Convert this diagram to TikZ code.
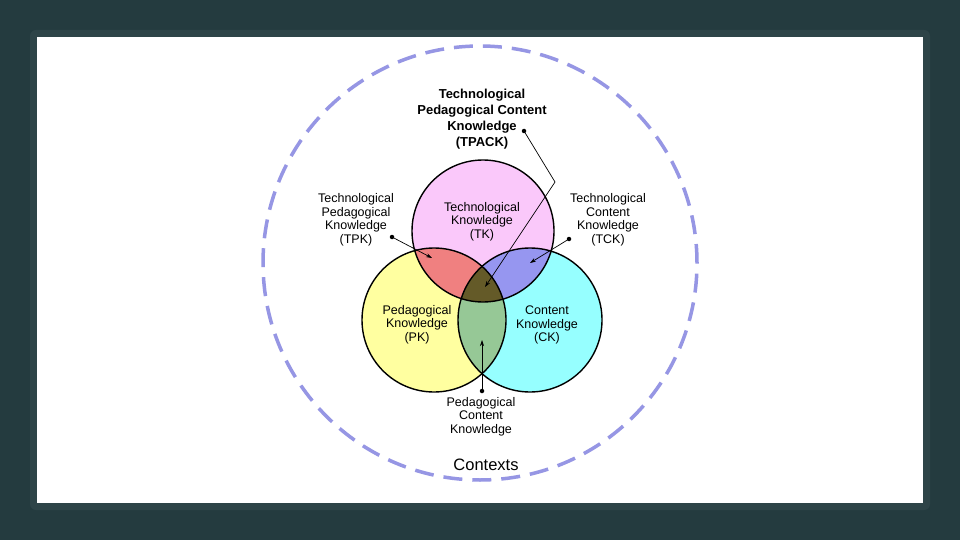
\documentclass[tikz,border=0pt]{standalone}
\usepackage{fontspec}
\setmainfont{Liberation Sans}
\usetikzlibrary{arrows.meta}
\definecolor{bgdark}{RGB}{36,59,63}
\definecolor{band}{RGB}{46,68,72}
\definecolor{ctx}{RGB}{150,150,228}
\definecolor{tkcol}{RGB}{250,200,250}
\definecolor{pkcol}{RGB}{255,255,160}
\definecolor{ckcol}{RGB}{150,255,255}
\definecolor{tpkcol}{RGB}{240,128,128}
\definecolor{tckcol}{RGB}{150,150,240}
\definecolor{pckcol}{RGB}{150,200,150}
\definecolor{tpackcol}{RGB}{100,90,40}
\begin{document}
\begin{tikzpicture}[x=1pt,y=-1pt,
  lbl/.style={align=center,inner sep=0pt,font=\fontsize{12.5}{13.5}\selectfont},
  ring/.style={circle,draw=black,line width=1.4pt,inner sep=0pt},
  dotnode/.style={circle,fill=black,inner sep=0pt,minimum size=4.5pt},
  arr/.style={draw=black,line width=0.7pt,-{Stealth[length=6pt,width=4pt]}}]
\useasboundingbox (0,0) rectangle (960,540);
\fill[bgdark] (0,0) rectangle (960,540);
\fill[band,rounded corners=6pt] (30,30) rectangle (930,510);
\fill[white] (37,37) rectangle (923,503);
% contexts
\node[circle,draw=ctx,line width=3.5pt,dash pattern=on 19pt off 10pt,minimum size=434pt,inner sep=0pt] (context) at (480,263) {};
% centres
\coordinate (tkc) at (483,231);
\coordinate (pkc) at (434,320);
\coordinate (ckc) at (530,320);
% fills
\fill[tkcol] (tkc) circle[radius=71pt];
\fill[pkcol] (pkc) circle[radius=72pt];
\fill[ckcol] (ckc) circle[radius=72pt];
\begin{scope}
  \clip (pkc) circle[radius=72pt];
  \fill[pckcol] (ckc) circle[radius=72pt];
\end{scope}
\begin{scope}
  \clip (tkc) circle[radius=71pt];
  \fill[tpkcol] (pkc) circle[radius=72pt];
  \fill[tckcol] (ckc) circle[radius=72pt];
  \clip (pkc) circle[radius=72pt];
  \fill[tpackcol] (ckc) circle[radius=72pt];
\end{scope}
% outlines
\node[ring,minimum size=142pt] (tk) at (tkc) {};
\node[ring,minimum size=144pt] (pk) at (pkc) {};
\node[ring,minimum size=144pt] (ck) at (ckc) {};
% texts
\node[lbl] (tktext) at (482,221.5) {Technological\\Knowledge\\(TK)};
\node[lbl] (pktext) at (417,324.5) {Pedagogical\\Knowledge\\(PK)};
\node[lbl] (cktext) at (547,325) {Content\\Knowledge\\(CK)};
\node[lbl] (tpktext) at (356,220) {Technological\\Pedagogical\\Knowledge\\(TPK)};
\node[lbl] (tcktext) at (608,220) {Technological\\Content\\Knowledge\\(TCK)};
\node[lbl] (pcktext) at (481,416.5) {Pedagogical\\Content\\Knowledge};
\node[align=center,inner sep=0pt,font=\bfseries\fontsize{13}{16}\selectfont] (tpacktext) at (482,119) {Technological\\Pedagogical Content\\Knowledge\\(TPACK)};
\node[inner sep=0pt,font=\fontsize{16.5}{18}\selectfont] (ctxtext) at (486,465) {Contexts};
% dots and arrows
\node[dotnode] (d0) at (524,131) {};
\coordinate (k0) at (555,182);
\coordinate (a0) at (485,287);
\node[dotnode] (d1) at (392,237) {};
\coordinate (a1) at (432,258);
\node[dotnode] (d2) at (569,239) {};
\coordinate (a2) at (530,263);
\node[dotnode] (d3) at (482,391) {};
\coordinate (a3) at (482,340);
\draw[arr] (d0.center) -- (k0) -- (a0);
\draw[arr] (d1.center) -- (a1);
\draw[arr] (d2.center) -- (a2);
\draw[arr] (d3.center) -- (a3);
\end{tikzpicture}
\end{document}
